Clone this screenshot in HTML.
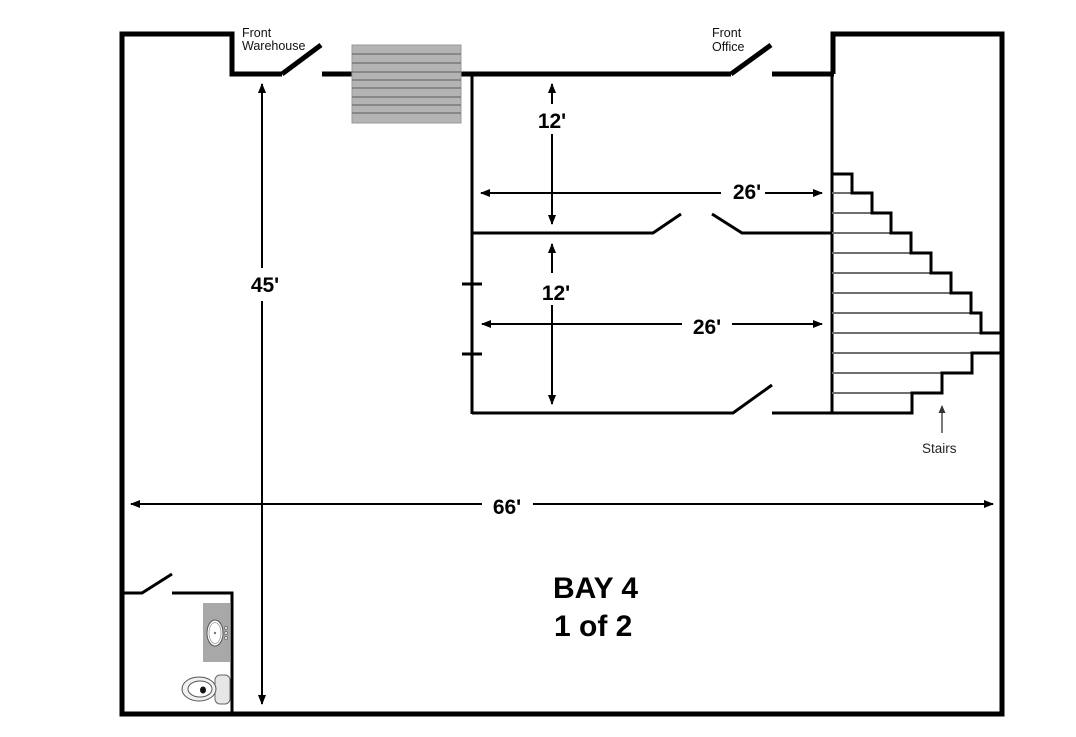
<!DOCTYPE html>
<html>
<head>
<meta charset="utf-8">
<style>
html,body{margin:0;padding:0;background:#fff;}
svg{display:block;}
text{font-family:"Liberation Sans",Arial,sans-serif;}
</style>
</head>
<body>
<svg width="1076" height="737" viewBox="0 0 1076 737" xmlns="http://www.w3.org/2000/svg">
<defs>
<marker id="ah" markerWidth="10" markerHeight="10" refX="9" refY="5" orient="auto" markerUnits="userSpaceOnUse">
<path d="M0,1 L10,5 L0,9 z" fill="#000"/>
</marker>
<marker id="ahg" markerWidth="8" markerHeight="8" refX="7" refY="4" orient="auto" markerUnits="userSpaceOnUse">
<path d="M0,0.5 L8,4 L0,7.5 z" fill="#333"/>
</marker>
</defs>

<!-- outer walls -->
<g fill="none" stroke="#000" stroke-width="5" stroke-linejoin="miter" stroke-linecap="butt">
<path d="M833,74 L833,34 L1002,34 L1002,714 L122,714 L122,34 L232,34 L232,74 L282,74"/>
<line x1="282" y1="74" x2="321" y2="45"/>
<line x1="322" y1="74" x2="731" y2="74"/>
<line x1="731" y1="74" x2="771" y2="45"/>
<line x1="772" y1="74" x2="834" y2="74"/>
</g>

<!-- inner walls -->
<g fill="none" stroke="#000" stroke-width="3" stroke-linecap="butt">
<line x1="472" y1="74" x2="472" y2="414"/>
<line x1="832" y1="74" x2="832" y2="414"/>
<path d="M472,233 L653,233 L681,214"/>
<path d="M712,214 L742,233 L832,233"/>
<path d="M472,413 L733,413 L772,385"/>
<line x1="772" y1="413" x2="832" y2="413"/>
<line x1="462" y1="284" x2="482" y2="284"/>
<line x1="462" y1="354" x2="482" y2="354"/>
<!-- bathroom -->
<path d="M124,593 L142,593 L172,574"/>
<path d="M172,593 L232,593 L232,714"/>
</g>

<!-- stairs -->
<g stroke="#6e6e6e" stroke-width="2">
<line x1="832" y1="193" x2="852" y2="193"/>
<line x1="832" y1="213" x2="872" y2="213"/>
<line x1="832" y1="233" x2="891" y2="233"/>
<line x1="832" y1="253" x2="911" y2="253"/>
<line x1="832" y1="273" x2="931" y2="273"/>
<line x1="832" y1="293" x2="951" y2="293"/>
<line x1="832" y1="313" x2="971" y2="313"/>
<line x1="832" y1="333" x2="981" y2="333"/>
<line x1="832" y1="353" x2="972" y2="353"/>
<line x1="832" y1="373" x2="942" y2="373"/>
<line x1="832" y1="393" x2="912" y2="393"/>
</g>
<g fill="none" stroke="#000" stroke-width="3">
<path d="M832,174 L852,174 L852,193 L872,193 L872,213 L891,213 L891,233 L911,233 L911,253 L931,253 L931,273 L951,273 L951,293 L971,293 L971,313 L981,313 L981,333 L1001,333"/>
<path d="M1001,353 L972,353 L972,373 L942,373 L942,393 L912,393 L912,413 L832,413"/>
</g>
<line x1="942" y1="433" x2="942" y2="406" stroke="#333" stroke-width="1.3" marker-end="url(#ahg)"/>
<text x="922" y="453" font-size="13.5" fill="#222">Stairs</text>

<!-- top stair box -->
<rect x="352" y="45" width="109" height="78" fill="#b4b4b4" stroke="#9a9a9a" stroke-width="1"/>
<g stroke="#7a7a7a" stroke-width="1.5">
<line x1="352" y1="54" x2="461" y2="54"/>
<line x1="352" y1="63" x2="461" y2="63"/>
<line x1="352" y1="72" x2="461" y2="72"/>
<line x1="352" y1="80" x2="461" y2="80"/>
<line x1="352" y1="88" x2="461" y2="88"/>
<line x1="352" y1="97" x2="461" y2="97"/>
<line x1="352" y1="105" x2="461" y2="105"/>
<line x1="352" y1="113" x2="461" y2="113"/>
</g>

<!-- labels -->
<text x="242" y="37" font-size="12.5" fill="#111">Front</text>
<text x="242" y="50" font-size="12.5" fill="#111">Warehouse</text>
<text x="712" y="37" font-size="12.5" fill="#111">Front</text>
<text x="712" y="51" font-size="12.5" fill="#111">Office</text>

<!-- dimension arrows -->
<g stroke="#000" stroke-width="2" fill="none">
<line x1="262" y1="268" x2="262" y2="84" marker-end="url(#ah)"/>
<line x1="262" y1="301" x2="262" y2="704" marker-end="url(#ah)"/>
<line x1="482" y1="504" x2="131" y2="504" marker-end="url(#ah)"/>
<line x1="533" y1="504" x2="993" y2="504" marker-end="url(#ah)"/>
<line x1="552" y1="104" x2="552" y2="84" marker-end="url(#ah)"/>
<line x1="552" y1="134" x2="552" y2="224" marker-end="url(#ah)"/>
<line x1="721" y1="193" x2="481" y2="193" marker-end="url(#ah)"/>
<line x1="765" y1="193" x2="822" y2="193" marker-end="url(#ah)"/>
<line x1="552" y1="273" x2="552" y2="244" marker-end="url(#ah)"/>
<line x1="552" y1="305" x2="552" y2="404" marker-end="url(#ah)"/>
<line x1="682" y1="324" x2="482" y2="324" marker-end="url(#ah)"/>
<line x1="732" y1="324" x2="822" y2="324" marker-end="url(#ah)"/>
</g>
<g font-weight="bold" font-size="21" fill="#000" text-anchor="middle">
<text x="265" y="292">45'</text>
<text x="507" y="514">66'</text>
<text x="552" y="128">12'</text>
<text x="747" y="199">26'</text>
<text x="556" y="300">12'</text>
<text x="707" y="334">26'</text>
</g>

<text x="553" y="598" font-size="30" font-weight="bold" fill="#000">BAY 4</text>
<text x="554" y="636" font-size="30" font-weight="bold" fill="#000">1 of 2</text>

<!-- sink -->
<rect x="203" y="603" width="27" height="59" fill="#a8a8a8"/>
<ellipse cx="215" cy="633" rx="8" ry="13" fill="#fff" stroke="#555" stroke-width="1"/>
<ellipse cx="215" cy="633" rx="6" ry="10.5" fill="none" stroke="#999" stroke-width="0.8"/>
<circle cx="215" cy="633" r="1.2" fill="#777"/>
<circle cx="226" cy="628" r="1.6" fill="#ddd" stroke="#555" stroke-width="0.6"/>
<circle cx="226" cy="633" r="1.6" fill="#ddd" stroke="#555" stroke-width="0.6"/>
<circle cx="226" cy="638" r="1.6" fill="#ddd" stroke="#555" stroke-width="0.6"/>

<!-- toilet -->
<rect x="215" y="675" width="15" height="29" rx="5" ry="5" fill="#e6e6e6" stroke="#666" stroke-width="1"/>
<ellipse cx="199" cy="689" rx="17" ry="12" fill="#f0f0f0" stroke="#555" stroke-width="1"/>
<ellipse cx="200" cy="689" rx="12" ry="8" fill="#fff" stroke="#555" stroke-width="1"/>
<ellipse cx="203" cy="690" rx="3" ry="3.5" fill="#111"/>
</svg>
</body>
</html>
